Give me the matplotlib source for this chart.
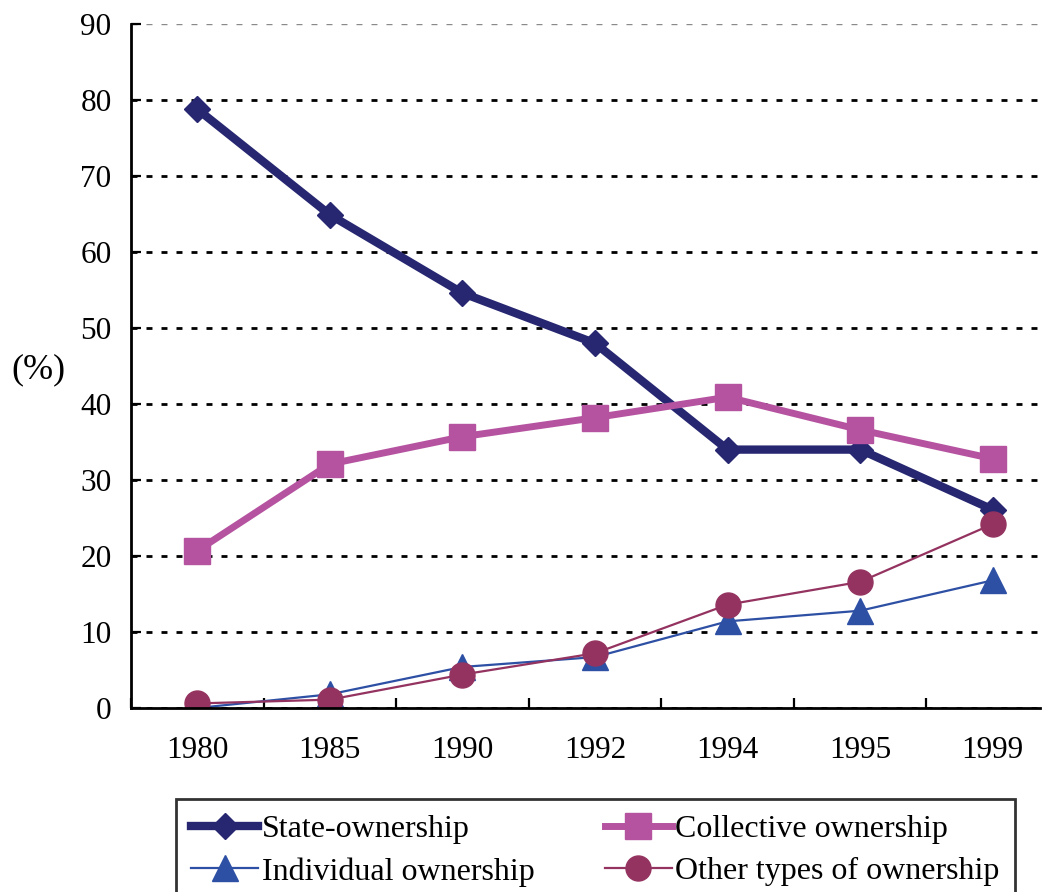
import matplotlib
matplotlib.use("Agg")
import matplotlib.pyplot as plt
import numpy as np
from matplotlib.ticker import FixedLocator, MultipleLocator

plt.rcParams['font.family'] = ['Liberation Serif', 'DejaVu Serif']
plt.rcParams['lines.scale_dashes'] = False

years = ["1980", "1985", "1990", "1992", "1994", "1995", "1999"]
state = [78.8, 64.9, 54.6, 48.0, 34.0, 34.0, 26.1]
collective = [20.7, 32.1, 35.7, 38.2, 40.9, 36.6, 32.8]
individual = [0.0, 1.8, 5.4, 6.7, 11.4, 12.8, 16.8]
other = [0.6, 1.1, 4.4, 7.2, 13.6, 16.6, 24.2]

W, H = 1049, 892
fig = plt.figure(figsize=(W / 100, H / 100), dpi=100)
ax = fig.add_axes([131 / W, 184 / H, (1040 - 131) / W, 684 / H])

x = np.arange(len(years))

h_state, = ax.plot(x, state, color='#262671', lw=6, marker='D', ms=13.5,
                   label='State-ownership', zorder=3)
h_coll, = ax.plot(x, collective, color='#B553A0', lw=5, marker='s', ms=18.5,
                  label='Collective ownership', zorder=3)
h_ind, = ax.plot(x, individual, color='#2E50A4', lw=1.6, marker='^', ms=18.5,
                 label='Individual ownership', zorder=4)
h_oth, = ax.plot(x, other, color='#943360', lw=1.6, marker='o', ms=18,
                 label='Other types of ownership', zorder=5)

ax.set_xlim(-0.5, 6.5 - 19 / 132.5)
ax.set_ylim(0, 90)
ax.yaxis.set_major_locator(MultipleLocator(10))
ax.set_xticks(x)
ax.set_xticklabels(years)
ax.xaxis.set_minor_locator(FixedLocator(np.arange(-0.5, 7.0, 1.0)))

for side in ('top', 'right'):
    ax.spines[side].set_visible(False)
for side in ('left', 'bottom'):
    ax.spines[side].set_linewidth(2)
    ax.spines[side].set_zorder(6)

ax.tick_params(axis='y', direction='in', length=7, width=1.6,
               labelsize=22.5, pad=14)
ax.tick_params(axis='x', which='major', length=0, labelsize=22.5, pad=20)
ax.tick_params(axis='x', which='minor', direction='in', length=7, width=1.6)

ax.yaxis.grid(True, color='black', lw=2, linestyle=(0, (4.3, 6.5)), zorder=1)
ax.set_axisbelow(True)
fig.canvas.draw()
for tick in ax.yaxis.get_major_ticks():
    if abs(tick.get_loc() - 90) < 1e-6:
        tick.gridline.set_color('#8a8a8a')
        tick.gridline.set_linewidth(1)

fig.text(38 / W, 1 - 370 / H, '(%)', fontsize=26, ha='center', va='center')

handles = [h_state, h_ind, h_coll, h_oth]
labels = [h.get_label() for h in handles]
leg = fig.legend(handles, labels, loc='upper left',
                 bbox_to_anchor=(176 / W, 1 - 799 / H),
                 ncol=2, fontsize=23, frameon=True, fancybox=False,
                 edgecolor='black', handlelength=2.1, handletextpad=0.1,
                 columnspacing=2.2, labelspacing=0.42, borderpad=0.48,
                 borderaxespad=0)
leg.get_frame().set_linewidth(2)

fig.savefig('out.png', dpi=100)
